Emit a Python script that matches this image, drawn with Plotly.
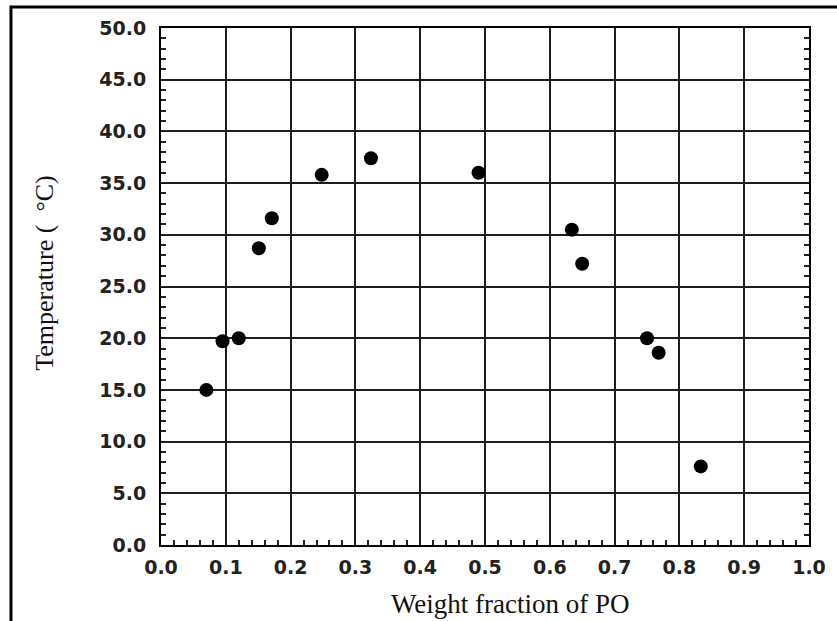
import plotly.graph_objects as go

# Data
weight_fraction = [0.070, 0.095, 0.120, 0.151, 0.171, 0.248, 0.324, 0.490, 0.634, 0.650, 0.750, 0.768, 0.833]
temperature = [15.0, 19.7, 20.0, 28.7, 31.6, 35.8, 37.4, 36.0, 30.5, 27.2, 20.0, 18.6, 7.6]

x_title = "Weight fraction of PO"
y_title = "Temperature (\u00a0\u00a0°C)"

fig = go.Figure()
fig.add_trace(go.Scatter(
    x=weight_fraction, y=temperature, mode="markers",
    marker=dict(symbol="circle", size=14, color="black", line=dict(width=0)),
    showlegend=False, hoverinfo="x+y",
))

tick_font = dict(family="DejaVu Sans", size=19, color="#222222", weight="bold")

fig.update_layout(
    width=837, height=621,
    margin=dict(l=161, r=28, t=28, b=76),
    paper_bgcolor="white", plot_bgcolor="white",
    xaxis=dict(
        range=[0, 1], dtick=0.1, tick0=0, tickformat=".1f",
        showline=True, linecolor="black", linewidth=2, mirror=True,
        showgrid=True, gridcolor="#1e1e1e", gridwidth=2,
        ticks="", ticklabelstandoff=4, tickfont=tick_font,
        minor=dict(dtick=0.02, ticks="inside", ticklen=5, tickwidth=2, tickcolor="#222222", showgrid=False),
        zeroline=False, fixedrange=True,
    ),
    yaxis=dict(
        range=[0, 50], dtick=5, tick0=0, tickformat=".1f",
        showline=True, linecolor="black", linewidth=2, mirror="ticks",
        showgrid=True, gridcolor="#1e1e1e", gridwidth=2,
        ticks="", ticklabelstandoff=9, tickfont=tick_font,
        minor=dict(dtick=1, ticks="inside", ticklen=5, tickwidth=2, tickcolor="#222222", showgrid=False),
        zeroline=False, fixedrange=True,
    ),
    annotations=[
        dict(text=x_title, xref="paper", yref="paper", x=0.5386, y=-0.114,
             xanchor="center", yanchor="middle", showarrow=False,
             font=dict(family="Liberation Serif", size=27, color="#111111")),
        dict(text=y_title, xref="paper", yref="paper", x=-0.181, y=0.526,
             xanchor="center", yanchor="middle", showarrow=False, textangle=-90,
             font=dict(family="Liberation Serif", size=26, color="#111111")),
    ],
    shapes=[
        dict(type="rect", xref="paper", yref="paper", x0=-0.2315, x1=1.06, y0=-0.2, y1=1.0406,
             line=dict(color="black", width=3), layer="above"),
    ],
)

fig.write_html("out.html")
